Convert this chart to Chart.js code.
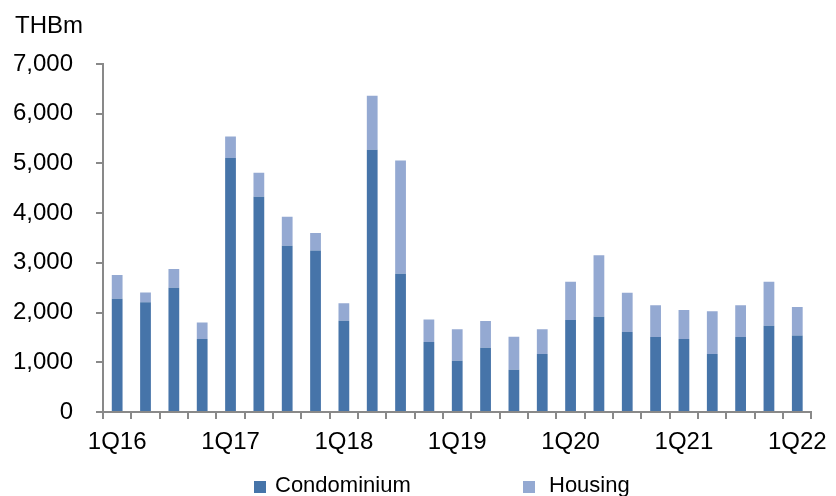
<!DOCTYPE html>
<html>
<head>
<meta charset="utf-8">
<script src="https://cdn.jsdelivr.net/npm/chart.js@4/dist/chart.umd.min.js"></script>
<style>
  html, body { margin: 0; padding: 0; background: #fff; }
  #wrap { width: 836px; height: 496px; position: relative; }
</style>
</head>
<body>
<div id="wrap"><canvas id="c" width="836" height="496"></canvas></div>
<script>
const quarters = ['1Q16','2Q16','3Q16','4Q16','1Q17','2Q17','3Q17','4Q17','1Q18','2Q18','3Q18','4Q18',
                  '1Q19','2Q19','3Q19','4Q19','1Q20','2Q20','3Q20','4Q20','1Q21','2Q21','3Q21','4Q21','1Q22'];
const condominium = [2280, 2210, 2500, 1470, 5110, 4330, 3345, 3250, 1835, 5275, 2780, 1410,
                     1030, 1290, 850, 1165, 1850, 1915, 1610, 1510, 1470, 1165, 1510, 1735, 1540];
const housing = [475, 195, 375, 330, 430, 480, 580, 350, 350, 1085, 2280, 450,
                 635, 540, 665, 500, 770, 1240, 790, 635, 580, 860, 635, 885, 570];
const yTicks = [0, 1000, 2000, 3000, 4000, 5000, 6000, 7000];
const shownTickLabels = ['1Q16','1Q17','1Q18','1Q19','1Q20','1Q21','1Q22'];
const unitLabel = 'THBm';
const seriesNames = ['Condominium', 'Housing'];
const colors = ['#4674A9', '#94A9D2'];

const FONT = '"Liberation Sans", Arial, sans-serif';

const extras = {
  id: 'extras',
  afterDraw(chart) {
    const ctx = chart.ctx;
    ctx.save();
    ctx.fillStyle = '#000';
    ctx.font = '24px ' + FONT;
    ctx.textBaseline = 'alphabetic';
    ctx.textAlign = 'left';
    ctx.fillText(unitLabel, 15, 33);
    // legend
    const items = [{x: 254, tx: 275}, {x: 523, tx: 549}];
    ctx.font = '22px ' + FONT;
    items.forEach((it, i) => {
      ctx.fillStyle = colors[i];
      ctx.fillRect(it.x, 481, 12, 12);
      ctx.fillStyle = '#000';
      ctx.fillText(seriesNames[i], it.tx, 492);
    });
    ctx.restore();
  }
};

new Chart(document.getElementById('c'), {
  type: 'bar',
  data: {
    labels: quarters,
    datasets: [
      { label: seriesNames[0], data: condominium, backgroundColor: colors[0], barPercentage: 0.38, categoryPercentage: 1 },
      { label: seriesNames[1], data: housing, backgroundColor: colors[1], barPercentage: 0.38, categoryPercentage: 1 }
    ]
  },
  options: {
    responsive: false,
    animation: false,
    devicePixelRatio: 1,
    layout: { padding: { left: 0, right: 18, top: 64, bottom: 0 } },
    plugins: { legend: { display: false }, tooltip: { enabled: false }, title: { display: false } },
    scales: {
      x: {
        stacked: true,
        afterFit(s) { s.height = 84; },
        grid: { drawOnChartArea: false, drawTicks: true, tickLength: 7, color: '#898989', lineWidth: 2, offset: true },
        border: { color: '#898989', width: 2 },
        ticks: {
          autoSkip: false, maxRotation: 0, minRotation: 0, padding: 9, color: '#000',
          font: { family: FONT, size: 24 },
          callback(v, i) { const l = quarters[i]; return shownTickLabels.includes(l) ? l : ''; }
        }
      },
      y: {
        stacked: true,
        min: 0, max: 7000,
        afterFit(s) { s.width = 103; },
        afterBuildTicks(s) { s.ticks = yTicks.map(v => ({ value: v })); },
        grid: { drawOnChartArea: false, drawTicks: true, tickLength: 7, color: '#898989', lineWidth: 2 },
        border: { color: '#898989', width: 2 },
        ticks: {
          padding: 23, color: '#000',
          font: { family: FONT, size: 24 },
          callback(v) { return v.toLocaleString('en-US'); }
        }
      }
    }
  },
  plugins: [extras]
});
</script>
</body>
</html>
